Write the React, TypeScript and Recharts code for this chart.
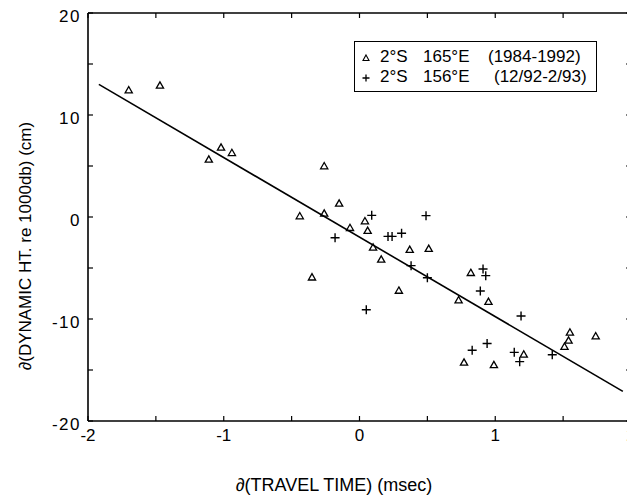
import React from 'react'
import {
  ScatterChart,
  Scatter,
  XAxis,
  YAxis,
  Legend,
} from 'recharts'

// 2°S 165°E (1984-1992), open triangles
const triX = [-1.7, -1.47, -1.11, -1.02, -0.94, -0.44, -0.35, -0.26, -0.26, -0.15, -0.07, 0.04, 0.06, 0.1, 0.16, 0.29, 0.37, 0.51, 0.73, 0.77, 0.82, 0.95, 0.99, 1.21, 1.51, 1.54, 1.55, 1.74]
const triY = [12.45, 12.9, 5.65, 6.83, 6.3, 0.1, -5.9, 5.0, 0.36, 1.34, -1.05, -0.39, -1.34, -2.97, -4.15, -7.2, -3.2, -3.1, -8.14, -14.25, -5.46, -8.3, -14.5, -13.46, -12.7, -12.1, -11.3, -11.67]

// 2°S 156°E (12/92-2/93), plus signs
const plusX = [-0.18, 0.05, 0.09, 0.21, 0.24, 0.31, 0.38, 0.49, 0.5, 0.83, 0.89, 0.91, 0.93, 0.94, 1.14, 1.18, 1.19, 1.42]
const plusY = [-2.03, -9.1, 0.16, -1.9, -1.9, -1.6, -4.77, 0.13, -5.95, -13.07, -7.25, -5.1, -5.75, -12.4, -13.27, -14.18, -9.7, -13.5]

// regression line end points
const fitX = [-1.92, 1.94]
const fitY = [13.0, -17.1]

const xTicks = [-2, -1.5, -1, -0.5, 0, 0.5, 1, 1.5, 2]
const xTickLabels: Record<string, string> = { '-2': '-2', '-1': '-1', '0': '0', '1': '1', '2': '2' }
const yTicks = [-20, -15, -10, -5, 0, 5, 10, 15, 20]
const yTickLabels: Record<string, string> = { '-20': '-20', '-10': '-10', '0': '0', '10': '10', '20': '20' }

const legendRows = [
  { symbol: 'tri', lat: '2°S', lon: '165°E', period: '(1984-1992)', periodLeft: 133 },
  { symbol: 'plus', lat: '2°S', lon: '156°E', period: '(12/92-2/93)', periodLeft: 139 },
]

const zip = (xs: number[], ys: number[]) => xs.map((x, i) => ({ x, y: ys[i] }))
const triData = zip(triX, triY)
const plusData = zip(plusX, plusY)
const fitData = zip(fitX, fitY)

const FONT = '"Liberation Sans", Arial, Helvetica, sans-serif'
const TICK = 5

// eslint-disable-next-line @typescript-eslint/no-explicit-any
function Triangle(props: any) {
  const { cx, cy } = props
  return (
    <path
      d={`M${cx},${cy - 3.5} L${cx + 3.6},${cy + 2.8} L${cx - 3.6},${cy + 2.8} Z`}
      fill="none"
      stroke="#000"
      strokeWidth={1.3}
    />
  )
}

// eslint-disable-next-line @typescript-eslint/no-explicit-any
function Plus(props: any) {
  const { cx, cy } = props
  return (
    <path d={`M${cx - 4.5},${cy} H${cx + 4.5} M${cx},${cy - 4.5} V${cy + 4.5}`} stroke="#000" strokeWidth={1.4} />
  )
}

// eslint-disable-next-line @typescript-eslint/no-explicit-any
function BottomTick(props: any) {
  const { x, y, payload } = props
  const label = xTickLabels[String(payload.value)]
  return (
    <g>
      <line x1={x} y1={y} x2={x} y2={y - TICK} stroke="#000" strokeWidth={1.2} />
      {label && (
        <text x={x} y={y + 20} textAnchor="middle" fontSize={17} fontFamily={FONT} fill="#000">
          {label}
        </text>
      )}
    </g>
  )
}

// eslint-disable-next-line @typescript-eslint/no-explicit-any
function LeftTick(props: any) {
  const { x, y, payload } = props
  const label = yTickLabels[String(payload.value)]
  return (
    <g>
      <line x1={x} y1={y} x2={x + TICK} y2={y} stroke="#000" strokeWidth={1.2} />
      {label && (
        <text x={x - 7} y={y + 9} textAnchor="end" fontSize={17} letterSpacing={1.5} fontFamily={FONT} fill="#000">
          {label}
        </text>
      )}
    </g>
  )
}

// eslint-disable-next-line @typescript-eslint/no-explicit-any
function TopTick(props: any) {
  const { x, y } = props
  return <line x1={x} y1={y} x2={x} y2={y + TICK} stroke="#000" strokeWidth={1.2} />
}

// eslint-disable-next-line @typescript-eslint/no-explicit-any
function RightTick(props: any) {
  const { x, y } = props
  return <line x1={x} y1={y} x2={x - TICK} y2={y} stroke="#000" strokeWidth={1.2} />
}

function AxisTitle({ tx, ty, rotate, text, size }: { tx: number; ty: number; rotate?: boolean; text: string; size: number }) {
  return (
    <text
      x={tx}
      y={ty}
      transform={rotate ? `rotate(-90 ${tx} ${ty})` : undefined}
      textAnchor="middle"
      fontSize={size}
      fontFamily={FONT}
      fill="#000"
    >
      {text}
    </text>
  )
}

function LegendBox() {
  return (
    <div
      style={{
        position: 'relative',
        width: 243,
        height: 51,
        border: '1.5px solid #000',
        boxSizing: 'border-box',
        background: '#fff',
        fontFamily: FONT,
        fontSize: 17,
        color: '#000',
      }}
    >
      {legendRows.map((r, i) => (
        <div key={i} style={{ position: 'absolute', left: 0, top: 5 + i * 20, height: 20, width: '100%', lineHeight: '20px' }}>
          <svg width={12} height={12} style={{ position: 'absolute', left: 5, top: 5 }}>
            {r.symbol === 'tri' ? (
              <path d="M6,3 L9,8.5 L3,8.5 Z" fill="none" stroke="#000" strokeWidth={1.1} />
            ) : (
              <path d="M2.5,6 H9.5 M6,2.5 V9.5" stroke="#000" strokeWidth={1.3} />
            )}
          </svg>
          <span style={{ position: 'absolute', left: 25 }}>{r.lat}</span>
          <span style={{ position: 'absolute', left: 68 }}>{r.lon}</span>
          <span style={{ position: 'absolute', left: r.periodLeft }}>{r.period}</span>
        </div>
      ))}
    </div>
  )
}

export default function App() {
  const axisLine = { stroke: '#000', strokeWidth: 1.6 }
  return (
    <div style={{ width: 627, height: 489, position: 'relative', background: '#fff' }}>
      <ScatterChart width={627} height={489} margin={{ top: 4, right: 3, bottom: 46, left: 30 }}>
        <XAxis
          dataKey="x"
          type="number"
          domain={[-2, 2]}
          ticks={xTicks}
          interval={0}
          height={30}
          tickSize={0}
          tickMargin={0}
          tickLine={false}
          axisLine={axisLine}
          tick={<BottomTick />}
          label={<AxisTitle tx={326} ty={483} size={18} text="∂(TRAVEL TIME) (msec)" />}
        />
        <XAxis
          xAxisId="t"
          orientation="top"
          dataKey="x"
          type="number"
          domain={[-2, 2]}
          ticks={xTicks}
          interval={0}
          height={1}
          tickSize={0}
          tickMargin={0}
          tickLine={false}
          axisLine={axisLine}
          tick={<TopTick />}
        />
        <YAxis
          dataKey="y"
          type="number"
          domain={[-20, 20]}
          ticks={yTicks}
          interval={0}
          width={50}
          tickSize={0}
          tickMargin={0}
          tickLine={false}
          axisLine={axisLine}
          tick={<LeftTick />}
          label={<AxisTitle tx={23} ty={238} size={17} rotate text="∂(DYNAMIC HT. re 1000db) (cm)" />}
        />
        <YAxis
          yAxisId="r"
          orientation="right"
          dataKey="y"
          type="number"
          domain={[-20, 20]}
          ticks={yTicks}
          interval={0}
          width={1}
          tickSize={0}
          tickMargin={0}
          tickLine={false}
          axisLine={axisLine}
          tick={<RightTick />}
        />
        <Legend
          layout="horizontal"
          verticalAlign="middle"
          align="center"
          content={() => <LegendBox />}
          wrapperStyle={{ top: 33, left: 346, width: 243, height: 51 }}
        />
        <Scatter
          name="fit"
          data={fitData}
          xAxisId="t"
          yAxisId="r"
          line={{ stroke: '#000', strokeWidth: 1.6 }}
          shape={() => <g />}
          isAnimationActive={false}
          legendType="none"
        />
        <Scatter name="2°S 165°E (1984-1992)" data={triData} shape={<Triangle />} isAnimationActive={false} />
        <Scatter name="2°S 156°E (12/92-2/93)" data={plusData} shape={<Plus />} isAnimationActive={false} />
      </ScatterChart>
    </div>
  )
}
